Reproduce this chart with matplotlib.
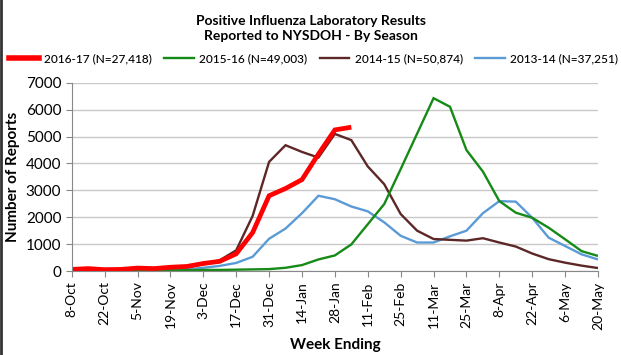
import matplotlib
matplotlib.use("Agg")
import matplotlib.pyplot as plt
from matplotlib.lines import Line2D

# week-ending labels (every other week is labelled)
weeks = ["8-Oct", "15-Oct", "22-Oct", "29-Oct", "5-Nov", "12-Nov", "19-Nov", "26-Nov",
         "3-Dec", "10-Dec", "17-Dec", "24-Dec", "31-Dec", "7-Jan", "14-Jan", "21-Jan",
         "28-Jan", "4-Feb", "11-Feb", "18-Feb", "25-Feb", "4-Mar", "11-Mar", "18-Mar",
         "25-Mar", "1-Apr", "8-Apr", "15-Apr", "22-Apr", "29-Apr", "6-May", "13-May",
         "20-May"]

s2016_17 = [60, 90, 50, 60, 110, 90, 140, 170, 280, 360, 640, 1430, 2800, 3070,
            3400, 4350, 5250, 5350]
s2015_16 = [20, 20, 20, 20, 20, 20, 20, 30, 40, 40, 50, 60, 70, 120, 220, 430, 580,
            990, 1740, 2490, 3790, 5110, 6430, 6110, 4500, 3700, 2600, 2170, 1980,
            1610, 1180, 740, 560]
s2014_15 = [40, 60, 50, 40, 70, 70, 100, 140, 250, 400, 770, 2050, 4060, 4680,
            4430, 4220, 5100, 4870, 3890, 3230, 2120, 1500, 1190, 1160, 1130, 1220,
            1060, 910, 650, 440, 310, 200, 110]
s2013_14 = [40, 40, 30, 30, 40, 40, 50, 60, 120, 190, 300, 530, 1200, 1580, 2150,
            2800, 2670, 2400, 2220, 1810, 1310, 1060, 1060, 1290, 1500, 2150, 2600,
            2580, 1980, 1240, 930, 620, 430]

series = [
    ("2016-17 (N=27,418)", s2016_17, "#ff0000", 3.4),
    ("2015-16 (N=49,003)", s2015_16, "#168a16", 1.7),
    ("2014-15 (N=50,874)", s2014_15, "#5e2727", 1.7),
    ("2013-14 (N=37,251)", s2013_14, "#5b9bd5", 1.7),
]

plt.rcParams["font.family"] = ["Lato", "DejaVu Sans"]

fig = plt.figure(figsize=(6.21, 3.55), dpi=100)
ax = fig.add_axes([0.1155, 0.2366, 0.8475, 0.53])

# plot oldest first so the current season sits on top
for label, vals, color, lw in reversed(series):
    ax.plot(range(len(vals)), vals, color=color, lw=lw, solid_capstyle="butt",
            solid_joinstyle="miter")

ax.set_xlim(0, len(weeks) - 1)
ax.set_ylim(0, 7000)
ax.set_yticks(range(0, 7001, 1000))
ax.set_xticks(range(0, len(weeks), 2))
ax.set_xticklabels(weeks[::2], rotation=90, fontsize=10)
ax.tick_params(axis="y", labelsize=11, length=4, color="#888888")
ax.tick_params(axis="x", length=4, color="#888888")
ax.grid(axis="y", color="#c8c8c8", lw=1)
ax.set_axisbelow(True)
for sp in ("top", "right"):
    ax.spines[sp].set_visible(False)
for sp in ("left", "bottom"):
    ax.spines[sp].set_color("#888888")

ax.set_ylabel("Number of Reports", fontsize=11, fontweight="bold", labelpad=4)
ax.set_xlabel("Week Ending", fontsize=11, fontweight="bold", labelpad=6)

fig.text(0.5, 0.92, "Positive Influenza Laboratory Results\nReported to NYSDOH - By Season",
         ha="center", va="center", fontsize=10, fontweight="bold", linespacing=1.35)

handles = [Line2D([], [], color=c, lw=lw + 0.6 if lw > 3 else lw) for _, _, c, lw in series]
fig.legend(handles, [s[0] for s in series], loc="center", bbox_to_anchor=(0.505, 0.835),
           ncol=4, frameon=False, handlelength=2.5, columnspacing=1.0,
           handletextpad=0.45, prop={"size": 8.6, "weight": "medium"})

# screenshot edge on the left
fig.add_artist(Line2D([0.002, 0.002], [0, 1], color="#333333", lw=2,
                      transform=fig.transFigure))

fig.savefig("out.png", dpi=100)
